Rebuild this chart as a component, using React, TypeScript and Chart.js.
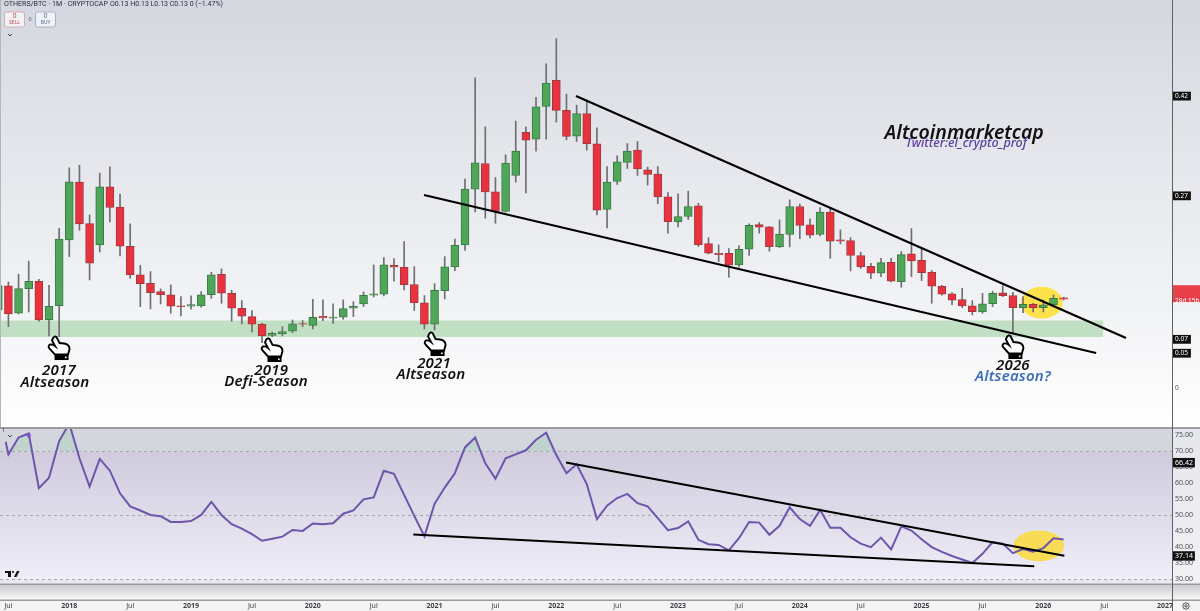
import React, { useEffect, useRef } from "react";
import { Chart, registerables } from "chart.js";

Chart.register(...registerables);

// Month index 0 = Jul 2017; the first candle is Jun 2017 (index -1)
const firstMonth = -1;
const opens = [.1123,.1469,.1075,.1430,.1536,.0984,.1186,.2131,.2962,.2366,.2059,.2894,.2602,.2040,.1627,.1507,.1387,.1339,.1181,.1176,.1186,.1344,.1637,.1363,.1147,.1027,.0917,.0758,.0782,.0816,.0926,.0902,.1032,.1003,.1018,.1147,.1210,.1334,.1349,.1766,.1738,.1488,.1224,.0917,.1402,.1742,.2059,.2861,.3230,.2822,.2539,.3058,.3677,.3581,.4051,.4426,.3994,.3624,.3950,.3514,.2568,.2971,.3245,.3422,.3139,.3077,.2750,.2395,.2467,.2621,.2078,.1939,.1939,.1771,.1997,.2352,.2318,.2030,.2208,.2611,.2347,.2208,.2530,.2131,.2122,.1906,.1752,.1651,.1810,.1531,.1930,.1838,.1666,.1464,.1354,.1272,.1181,.1094,.1214,.1368,.1330,.1157,.1205,.1157,.1195,.1296];
const highs = [.1526,.1526,.1637,.1824,.1565,.1478,.2299,.3168,.3206,.2491,.3091,.3182,.2789,.2362,.1766,.1675,.1426,.1483,.1315,.1325,.1387,.1666,.1714,.1406,.1258,.1114,.0931,.0806,.0883,.0979,.0970,.1277,.1267,.1210,.1267,.1243,.1382,.1771,.1877,.1862,.2107,.1747,.1330,.1502,.1891,.2141,.3005,.4464,.3758,.3029,.3355,.3840,.3758,.4181,.4666,.5026,.4229,.4070,.4123,.3744,.3187,.3341,.3518,.3547,.3178,.3187,.2813,.2794,.2832,.2659,.2165,.2059,.2006,.2050,.2362,.2381,.2323,.2419,.2707,.2645,.2434,.2597,.2573,.2275,.2165,.1954,.1795,.1867,.1867,.1963,.2294,.1997,.1690,.1478,.1373,.1435,.1258,.1363,.1392,.1474,.1378,.1315,.1219,.1267,.1339,.1306];
const lows = [.0931,.0883,.1066,.1094,.0960,.0749,.0739,.1891,.2270,.1555,.1958,.2390,.1901,.1579,.1171,.1138,.1210,.1075,.1037,.1133,.1162,.1291,.1219,.0960,.0922,.0806,.0653,.0739,.0749,.0797,.0883,.0850,.0970,.0931,.0989,.1027,.1171,.1310,.1325,.1536,.1411,.1114,.0850,.0835,.1282,.1690,.1978,.2534,.2443,.2371,.2530,.2962,.2808,.3408,.3581,.3826,.3571,.3547,.3422,.2491,.2304,.2928,.3158,.3058,.2918,.2650,.2227,.2318,.2424,.2035,.1930,.1819,.1594,.1738,.1906,.2227,.1968,.2021,.2030,.2150,.2160,.2189,.1867,.2074,.1685,.1718,.1574,.1603,.1526,.1450,.1603,.1546,.1219,.1334,.1200,.1157,.1051,.1075,.1171,.1315,.0787,.1085,.1094,.1094,.1190,.1267];
const closes = [.1474,.1066,.1430,.1536,.0979,.1176,.2141,.2966,.2362,.1795,.2894,.2597,.2040,.1632,.1502,.1373,.1344,.1176,.1171,.1200,.1339,.1627,.1363,.1147,.1032,.0917,.0754,.0787,.0811,.0922,.0917,.1018,.1008,.1022,.1142,.1176,.1334,.1354,.1771,.1738,.1488,.1229,.0917,.1406,.1742,.2054,.2861,.3240,.2822,.2539,.3235,.3408,.3566,.4046,.4387,.3994,.3619,.3950,.3514,.2558,.2962,.3254,.3408,.3154,.3072,.2750,.2395,.2467,.2611,.2064,.1939,.1920,.1766,.1997,.2342,.2314,.2035,.2213,.2611,.2338,.2198,.2530,.2112,.2112,.1906,.1742,.1651,.1805,.1536,.1920,.1829,.1661,.1464,.1349,.1262,.1181,.1099,.1210,.1363,.1330,.1157,.1205,.1157,.1195,.1291,.1277];

const rsiStart = { x: -0.27, y: 73.0 };
const rsiValues = [69.0,74.3,75.6,58.4,61.7,73.2,78.7,67.8,58.9,67.6,63.9,56.8,52.7,51.4,50.0,49.6,47.8,47.8,48.1,50.0,54.1,50.0,47.1,45.7,44.0,41.9,42.5,43.2,45.3,45.0,47.3,47.1,47.4,50.4,51.4,54.9,55.5,63.9,62.9,56.3,49.7,43.3,53.5,58.6,63.1,71.2,74.3,66.2,61.4,67.8,69.0,70.3,73.6,75.8,68.8,63.1,65.9,59.7,48.7,52.9,55.3,56.6,53.7,52.7,49.0,45.2,45.9,48.0,42.2,40.8,40.6,38.9,42.7,47.8,47.6,43.8,46.6,52.4,48.7,46.6,51.6,46.0,46.0,43.0,41.0,39.9,42.9,39.2,46.4,45.1,42.4,39.9,38.4,37.1,36.0,34.9,37.8,41.5,41.0,38.0,39.3,38.5,39.6,42.7,42.3];

const priceUpperTrend = [{ x: 55.94, y: 0.4201 }, { x: 110.15, y: 0.0719 }];
const priceLowerTrend = [{ x: 40.96, y: 0.2777 }, { x: 107.2, y: 0.0504 }];
const rsiUpperTrend = [{ x: 54.96, y: 66.5 }, { x: 104.07, y: 37.2 }];
const rsiLowerTrend = [{ x: 39.9, y: 43.9 }, { x: 101.1, y: 33.9 }];

const priceTicks = [0, 0.05, 0.07, 0.13, 0.2765, 0.42];
const rsiTicks = [30, 35, 40, 45, 50, 55, 60, 65, 70, 75, 37.14, 66.42];
const rsiMarked = [37.14, 66.42];
const rsiDashed = [70, 50, 30];
const yearTicks: Record<number, string> = { 6: "2018", 18: "2019", 30: "2020", 42: "2021", 54: "2022", 66: "2023", 78: "2024", 90: "2025", 102: "2026", 114: "2027" };

const zoneIndexEnd = 107.9;
const zonePrices = [0.0734, 0.0971];
const priceHalo = { x: 101.84, y: 0.1227, rx: 2.07, ry: 0.023 };
const rsiHalo = { x: 101.55, y: 40.3, rx: 2.5, ry: 4.85 };
const hands = [{ x: 4.99, y: 0.0575 }, { x: 25.98, y: 0.0547 }, { x: 42.05, y: 0.0633 }, { x: 99.0, y: 0.0590 }];
const notes = [
  { x: 4.99, y: 0.0245, text: "2017", color: "#111" },
  { x: 4.59, y: 0.0072, text: "Altseason", color: "#111" },
  { x: 25.9, y: 0.0245, text: "2019", color: "#111" },
  { x: 25.4, y: 0.0086, text: "Defi-Season", color: "#111" },
  { x: 41.95, y: 0.0345, text: "2021", color: "#111" },
  { x: 41.65, y: 0.0187, text: "Altseason", color: "#111" },
  { x: 99.0, y: 0.0317, text: "2026", color: "#111" },
  { x: 99.0, y: 0.0158, text: "Altseason?", color: "#3f6fb8" },
];

const GREEN = "#4fa658";
const GREEN_EDGE = "#3a7a44";
const RED = "#e8333f";
const RED_EDGE = "#a0383f";
const FONT = "'Noto Sans', sans-serif";

function drawHand(ctx: CanvasRenderingContext2D, cx: number, cy: number) {
  ctx.save();
  ctx.translate(cx - 11, cy - 12);
  ctx.beginPath();
  ctx.moveTo(5, 2);
  ctx.quadraticCurveTo(6.5, -0.5, 8.5, 1);
  ctx.lineTo(11.5, 7);
  ctx.lineTo(16, 7.5);
  ctx.quadraticCurveTo(21.5, 8.5, 21.5, 13);
  ctx.lineTo(20, 18.5);
  ctx.lineTo(7, 18.5);
  ctx.lineTo(1.5, 12.5);
  ctx.quadraticCurveTo(-0.5, 10, 2, 8.5);
  ctx.quadraticCurveTo(4.5, 8, 7, 10);
  ctx.lineTo(4, 4.5);
  ctx.closePath();
  ctx.fillStyle = "#fff";
  ctx.fill();
  ctx.strokeStyle = "#000";
  ctx.lineWidth = 1.9;
  ctx.stroke();
  ctx.fillStyle = "#000";
  ctx.fillRect(6.5, 19, 14, 5);
  ctx.fillStyle = "#fff";
  ctx.fillRect(17, 20.5, 1.6, 1.6);
  ctx.restore();
}

const backdropPlugin = {
  id: "paneBackdrop",
  beforeDraw(chart: any) {
    const { ctx, width, scales } = chart;
    const right = scales.x.right;
    ctx.save();
    const main = ctx.createLinearGradient(0, 0, 0, 428);
    main.addColorStop(0, "#d4d7df");
    main.addColorStop(0.3, "#e2e4ea");
    main.addColorStop(0.75, "#f3f4f6");
    main.addColorStop(1, "#ffffff");
    ctx.fillStyle = main;
    ctx.fillRect(0, 0, width, 428);
    const side = ctx.createLinearGradient(0, 428, 0, 600);
    side.addColorStop(0, "#e5e6eb");
    side.addColorStop(1, "#f3f3f6");
    ctx.fillStyle = side;
    ctx.fillRect(right, 428, width - right, 172);
    const y70 = scales.y2.getPixelForValue(70);
    const y30 = scales.y2.getPixelForValue(30);
    const sep = 584;
    const topBand = ctx.createLinearGradient(0, 428, 0, y70);
    topBand.addColorStop(0, "#d4d7de");
    topBand.addColorStop(1, "#d2d5dc");
    ctx.fillStyle = topBand;
    ctx.fillRect(0, 428, right, y70 - 428);
    const band = ctx.createLinearGradient(0, y70, 0, y30);
    band.addColorStop(0, "#cfcbdd");
    band.addColorStop(0.5, "#dfdcea");
    band.addColorStop(1, "#efedf7");
    ctx.fillStyle = band;
    ctx.fillRect(0, y70, right, y30 - y70);
    ctx.fillStyle = "#e9e8ef";
    ctx.fillRect(0, y30, right, sep - y30);
    const strip = ctx.createLinearGradient(0, sep, 0, 600);
    strip.addColorStop(0, "#c9cacd");
    strip.addColorStop(1, "#f8f8f8");
    ctx.fillStyle = strip;
    ctx.fillRect(0, sep, width, 600 - sep);
    ctx.fillStyle = "#f4f4f5";
    ctx.fillRect(0, 600, width, 11);
    ctx.restore();
  },
  beforeDatasetsDraw(chart: any) {
    const { ctx, scales } = chart;
    const { x, y, y2 } = scales;
    ctx.save();
    ctx.fillStyle = "#c1dfc2";
    const zt = y.getPixelForValue(zonePrices[1]);
    const zb = y.getPixelForValue(zonePrices[0]);
    ctx.fillRect(0, zt, x.getPixelForValue(zoneIndexEnd), zb - zt);
    ctx.fillStyle = "#fde24c";
    ctx.beginPath();
    const hx = x.getPixelForValue(priceHalo.x);
    ctx.ellipse(hx, y.getPixelForValue(priceHalo.y), Math.abs(x.getPixelForValue(priceHalo.x + priceHalo.rx) - hx), Math.abs(y.getPixelForValue(priceHalo.y + priceHalo.ry) - y.getPixelForValue(priceHalo.y)), 0, 0, Math.PI * 2);
    ctx.fill();
    ctx.fillStyle = "#f8dc55";
    ctx.beginPath();
    const rx = x.getPixelForValue(rsiHalo.x);
    ctx.ellipse(rx, y2.getPixelForValue(rsiHalo.y), Math.abs(x.getPixelForValue(rsiHalo.x + rsiHalo.rx) - rx), Math.abs(y2.getPixelForValue(rsiHalo.y + rsiHalo.ry) - y2.getPixelForValue(rsiHalo.y)), 0, 0, Math.PI * 2);
    ctx.fill();
    ctx.setLineDash([3, 3]);
    ctx.strokeStyle = "#a8a8ae";
    ctx.lineWidth = 1;
    rsiDashed.forEach((v) => {
      const py = Math.round(y2.getPixelForValue(v)) + 0.5;
      ctx.beginPath();
      ctx.moveTo(0, py);
      ctx.lineTo(x.right, py);
      ctx.stroke();
    });
    ctx.restore();
  },
  afterDraw(chart: any) {
    const { ctx, width, scales } = chart;
    const { x, y, y2 } = scales;
    ctx.save();
    ctx.fillStyle = "#9c9c9f";
    ctx.fillRect(0, 427, width, 2);
    ctx.fillRect(0, 583.5, width, 1.5);
    ctx.fillRect(0, 599.5, width, 1.5);
    ctx.fillStyle = "#b5b6bb";
    ctx.fillRect(0, 0, 1, 427);
    ctx.fillStyle = "#5f6064";
    ctx.fillRect(Math.round(x.right), 0, 1, 611);

    hands.forEach((h) => drawHand(ctx, x.getPixelForValue(h.x), y.getPixelForValue(h.y)));

    ctx.textAlign = "center";
    ctx.textBaseline = "middle";
    notes.forEach((n) => {
      ctx.fillStyle = n.color;
      ctx.font = `italic 600 15px ${FONT}`;
      (ctx as any).letterSpacing = "0.2px";
      ctx.fillText(n.text, x.getPixelForValue(n.x), y.getPixelForValue(n.y));
    });
    (ctx as any).letterSpacing = "0px";
    ctx.fillStyle = "#111";
    ctx.font = `italic 600 19.5px ${FONT}`;
    ctx.fillText("Altcoinmarketcap", x.getPixelForValue(94.2), y.getPixelForValue(0.3669));
    ctx.fillStyle = "#5b3f9e";
    ctx.font = `italic 500 12.5px ${FONT}`;
    ctx.fillText("Twitter:el_crypto_prof", x.getPixelForValue(94.4), y.getPixelForValue(0.3521));

    ctx.textAlign = "left";
    ctx.fillStyle = "#2a2e39";
    ctx.font = `7.1px Roboto, ${FONT}`;
    ctx.fillText("OTHERS/BTC · 1M · CRYPTOCAP", 4, 4.5);
    ctx.font = `7px Roboto, ${FONT}`;
    ctx.fillText("O0.13 H0.13 L0.13 C0.13 0 (−1.47%)", 110, 4.5);

    const button = (bx: number, edge: string, fg: string, label: string) => {
      ctx.fillStyle = "#f1f2f5";
      ctx.strokeStyle = edge;
      ctx.lineWidth = 1;
      ctx.beginPath();
      ctx.roundRect(bx + 0.5, 12, 20, 15, 2);
      ctx.fill();
      ctx.stroke();
      ctx.textAlign = "center";
      ctx.fillStyle = fg;
      ctx.font = `6.5px ${FONT}`;
      ctx.fillText("0", bx + 10.5, 16);
      ctx.font = `5px ${FONT}`;
      ctx.fillText(label, bx + 10.5, 22.5);
    };
    button(4, "#d8a9ad", "#c0444c", "SELL");
    button(35, "#a5b2cc", "#4c6796", "BUY");
    ctx.fillStyle = "#555";
    ctx.font = `5.5px ${FONT}`;
    ctx.fillText("0", 30, 19);

    const chevron = (cx: number, cy: number) => {
      ctx.strokeStyle = "#444";
      ctx.lineWidth = 1;
      ctx.beginPath();
      ctx.moveTo(cx - 2, cy - 1);
      ctx.lineTo(cx, cy + 1);
      ctx.lineTo(cx + 2, cy - 1);
      ctx.stroke();
    };
    chevron(10, 35);
    chevron(10, 436);
    ctx.fillStyle = "#333";
    ctx.fillText("1", 3.5, 430);

    // marker on the RSI line
    ctx.fillStyle = "rgba(125,80,225,0.85)";
    ctx.beginPath();
    ctx.arc(x.getPixelForValue(2), y2.getPixelForValue(75), 2.2, 0, Math.PI * 2);
    ctx.fill();

    // platform mark
    ctx.fillStyle = "#111";
    ctx.fillRect(5, 571, 6, 2);
    ctx.fillRect(8, 571, 3, 6);
    ctx.beginPath();
    ctx.moveTo(14, 577);
    ctx.lineTo(17, 571);
    ctx.lineTo(19.5, 571);
    ctx.lineTo(16.5, 577);
    ctx.closePath();
    ctx.fill();
    ctx.beginPath();
    ctx.arc(13, 572, 1, 0, Math.PI * 2);
    ctx.fill();

    // settings button
    ctx.strokeStyle = "#555";
    ctx.lineWidth = 1;
    ctx.beginPath();
    ctx.arc(1186, 606, 3.2, 0, Math.PI * 2);
    ctx.stroke();
    ctx.beginPath();
    ctx.arc(1186, 606, 1.2, 0, Math.PI * 2);
    ctx.stroke();
    ctx.restore();
  },
};

function clearScalePadding(scale: any) {
  scale.paddingTop = 0;
  scale.paddingBottom = 0;
  scale.paddingLeft = 0;
  scale.paddingRight = 0;
}

export default function App() {
  const ref = useRef<HTMLCanvasElement | null>(null);
  useEffect(() => {
    if (!ref.current) return;
    const xs = opens.map((_, i) => firstMonth + i);
    const rising = opens.map((o, i) => closes[i] >= o);
    const chart = new Chart(ref.current, {
      type: "bar",
      data: {
        datasets: [
          { type: "line", label: "Upper trend", data: priceUpperTrend, yAxisID: "y", borderColor: "#000", borderWidth: 2.2, pointRadius: 0, order: 0 },
          { type: "line", label: "Lower trend", data: priceLowerTrend, yAxisID: "y", borderColor: "#000", borderWidth: 2.2, pointRadius: 0, order: 0 },
          { type: "line", label: "RSI upper trend", data: rsiUpperTrend, yAxisID: "y2", borderColor: "#000", borderWidth: 2, pointRadius: 0, order: 0 },
          { type: "line", label: "RSI lower trend", data: rsiLowerTrend, yAxisID: "y2", borderColor: "#000", borderWidth: 2, pointRadius: 0, order: 0 },
          {
            type: "line",
            label: "RSI",
            data: [rsiStart, ...rsiValues.map((v, i) => ({ x: i, y: v }))],
            yAxisID: "y2",
            borderColor: "#6d55ac",
            borderWidth: 2,
            pointRadius: 0,
            tension: 0,
            order: 1,
            fill: { target: { value: 70 }, above: "rgba(150,205,165,0.3)", below: "rgba(0,0,0,0)" },
          },
          {
            label: "Body",
            data: xs.map((x, i) => ({ x, y: [opens[i], closes[i]] })),
            yAxisID: "y",
            barThickness: 8,
            grouped: false,
            borderSkipped: false,
            borderWidth: 1,
            backgroundColor: rising.map((r) => (r ? GREEN : RED)),
            borderColor: rising.map((r) => (r ? GREEN_EDGE : RED_EDGE)),
            order: 2,
          },
          {
            label: "Wick",
            data: xs.map((x, i) => ({ x, y: [lows[i], highs[i]] })),
            yAxisID: "y",
            barThickness: 1,
            grouped: false,
            borderWidth: 0,
            backgroundColor: "#6e6f72",
            order: 3,
          },
        ] as any,
      },
      options: {
        animation: false,
        responsive: false,
        devicePixelRatio: 1,
        layout: { padding: 0, autoPadding: false },
        plugins: { legend: { display: false }, tooltip: { enabled: false } },
        scales: {
          x: {
            type: "linear",
            offset: false,
            min: -0.83,
            max: 114.68,
            grid: { display: false, drawTicks: false, tickLength: 0 },
            border: { display: false },
            afterBuildTicks(scale: any) {
              const t = [];
              for (let m = 0; m <= 114; m += 6) t.push({ value: m });
              scale.ticks = t;
            },
            afterFit(scale: any) {
              scale.height = 11;
              clearScalePadding(scale);
            },
            ticks: {
              autoSkip: false,
              maxRotation: 0,
              padding: 2,
              color: "#3c3e44",
              font: (c: any) => ({ family: FONT, size: 7, weight: yearTicks[c.tick?.value] ? "bold" : "normal" }),
              callback: (v: any) => yearTicks[v as number] ?? "Jul",
            },
          },
          y: {
            type: "linear",
            position: "right",
            stack: "panes",
            stackWeight: 428,
            min: -0.05755,
            max: 0.55827,
            grid: { display: false, drawTicks: false, tickLength: 0 },
            border: { display: false },
            afterBuildTicks(scale: any) {
              scale.ticks = priceTicks.map((value) => ({ value }));
            },
            afterFit(scale: any) {
              scale.width = 28;
              clearScalePadding(scale);
            },
            ticks: {
              autoSkip: false,
              padding: 3,
              font: { family: FONT, size: 6.5 },
              color: (c: any) => (c.tick?.value === 0 ? "#555" : "#fff"),
              showLabelBackdrop: (c: any) => c.tick?.value !== 0,
              backdropColor: (c: any) => (c.tick?.value === 0.13 ? "#e8404b" : "#111"),
              backdropPadding: { left: 3, right: 3, top: 0.5, bottom: 0.5 },
              callback: (v: any) => {
                if (v === 0) return "0";
                if (v === 0.13) return ["0.13", "28d 15h"];
                return (Math.floor(v * 100) / 100).toFixed(2);
              },
            },
          },
          y2: {
            type: "linear",
            position: "right",
            stack: "panes",
            stackWeight: 172,
            min: 23.3,
            max: 77.3,
            grid: { display: false, drawTicks: false, tickLength: 0 },
            border: { display: false },
            afterBuildTicks(scale: any) {
              scale.ticks = rsiTicks.map((value) => ({ value }));
            },
            afterFit(scale: any) {
              scale.width = 28;
              clearScalePadding(scale);
            },
            ticks: {
              autoSkip: false,
              padding: 3,
              font: { family: FONT, size: 7 },
              color: (c: any) => (rsiMarked.includes(c.tick?.value) ? "#fff" : "#4c4e55"),
              showLabelBackdrop: (c: any) => rsiMarked.includes(c.tick?.value),
              backdropColor: "#111",
              backdropPadding: { left: 3, right: 2, top: 0.5, bottom: 0.5 },
              callback: (v: any) => Number(v).toFixed(2),
            },
          },
        } as any,
      },
      plugins: [backdropPlugin],
    } as any);
    return () => chart.destroy();
  }, []);
  return (
    <div style={{ position: "fixed", left: 0, top: 0, width: 1200, height: 611, background: "#fff" }}>
      <canvas ref={ref} width={1200} height={611} style={{ display: "block", width: 1200, height: 611 }} />
    </div>
  );
}
